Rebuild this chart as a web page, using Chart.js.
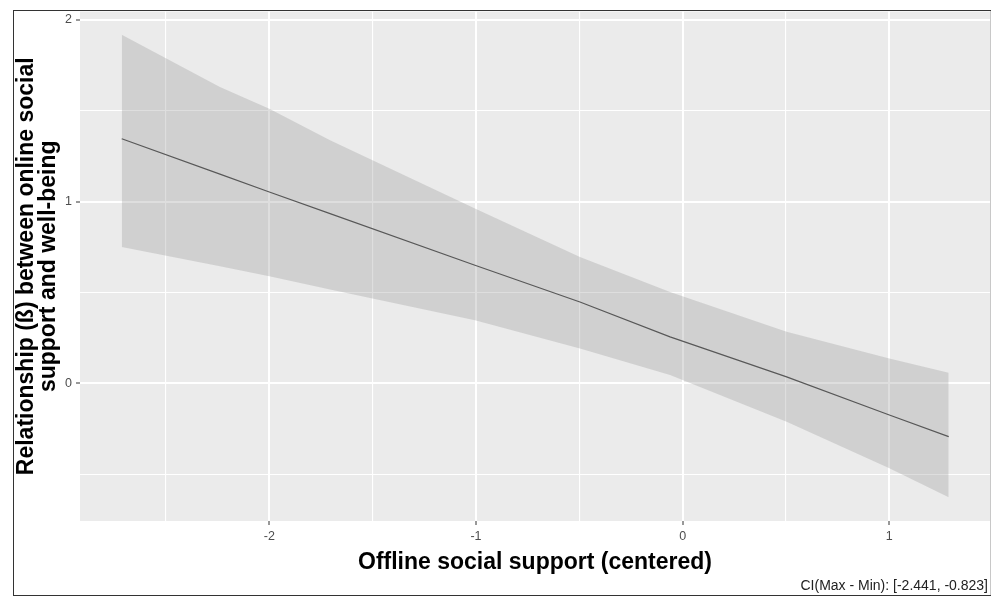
<!DOCTYPE html>
<html><head><meta charset="utf-8">
<script src="https://cdn.jsdelivr.net/npm/chart.js@4/dist/chart.umd.min.js"></script>
<style>html,body{margin:0;padding:0;background:#fff;overflow:hidden}#wrap{width:1003px;height:596px;position:relative}</style>
</head><body><div id="wrap"><canvas id="c" width="1003" height="596"></canvas></div>
<script>
// Data
const xValues     = [-2.714, -2.239, -2.0, -1.706, -1.005, -0.497, -0.061, 0.503, 1.0, 1.287];
const fitValues   = [1.346, 1.151, 1.053, 0.934, 0.650, 0.448, 0.256, 0.036, -0.174, -0.293];
const upperValues = [1.918, 1.630, 1.511, 1.337, 0.962, 0.696, 0.503, 0.284, 0.137, 0.058];
const lowerValues = [0.751, 0.645, 0.590, 0.516, 0.348, 0.192, 0.046, -0.211, -0.467, -0.626];
const xTicks = [-2.5, -2, -1.5, -1, -0.5, 0, 0.5, 1];
const yTicks = [-0.5, 0, 0.5, 1, 1.5, 2];
const xRange = [-2.916, 1.487];
const yRange = [-0.757, 2.046];
const xTitle = 'Offline social support (centered)';
const yTitle = ['Relationship (ß) between online social', 'support and well-being'];
const caption = 'CI(Max - Min): [-2.441, -0.823]';

const toPts = ys => xValues.map((x, i) => ({x: x, y: ys[i]}));
const FONT = "'Liberation Sans', Arial, sans-serif";
const isMajor = v => Math.abs(v - Math.round(v)) < 1e-9;

const ggPlugin = {
  id: 'gg',
  beforeDraw(chart) {
    const {ctx, chartArea: a} = chart;
    ctx.save();
    ctx.fillStyle = '#EBEBEB';
    ctx.fillRect(a.left, a.top, a.right - a.left, a.bottom - a.top);
    ctx.restore();
  },
  afterDraw(chart) {
    const ctx = chart.ctx;
    ctx.save();
    ctx.lineWidth = 1;
    ctx.strokeStyle = '#333';
    ctx.beginPath();
    ctx.moveTo(13, 10.5); ctx.lineTo(991, 10.5);
    ctx.moveTo(13.5, 10); ctx.lineTo(13.5, 596);
    ctx.moveTo(13, 595.5); ctx.lineTo(991, 595.5);
    ctx.stroke();
    ctx.strokeStyle = '#c8c8c8';
    ctx.beginPath();
    ctx.moveTo(990.5, 11); ctx.lineTo(990.5, 595);
    ctx.stroke();
    ctx.fillStyle = '#222';
    ctx.font = '14px ' + FONT;
    ctx.textAlign = 'right';
    ctx.textBaseline = 'middle';
    ctx.fillText(caption, 988, 586);
    ctx.restore();
  }
};

const gridOpts = {
  color: '#FFFFFF',
  lineWidth: c => (c.tick && isMajor(c.tick.value)) ? 2 : 1.1,
  drawTicks: true,
  tickLength: 4,
  tickWidth: 1,
  tickColor: c => (c.tick && isMajor(c.tick.value)) ? '#333333' : 'rgba(0,0,0,0)'
};
const tickOpts = {
  color: '#4D4D4D',
  font: {family: FONT, size: 12.5},
  padding: 4,
  autoSkip: false,
  maxRotation: 0,
  callback: v => isMajor(v) ? String(Math.round(v)) : ''
};

new Chart(document.getElementById('c'), {
  type: 'line',
  data: {
    datasets: [
      {data: toPts(upperValues), fill: '+1', backgroundColor: 'rgba(153,153,153,0.32)', borderWidth: 0, borderColor: 'rgba(0,0,0,0)', pointRadius: 0, tension: 0},
      {data: toPts(lowerValues), fill: false, borderWidth: 0, borderColor: 'rgba(0,0,0,0)', pointRadius: 0, tension: 0},
      {data: toPts(fitValues), fill: false, borderWidth: 1.2, borderColor: '#3a3a3a', pointRadius: 0, tension: 0}
    ]
  },
  options: {
    responsive: false,
    animation: false,
    devicePixelRatio: 1,
    layout: {padding: {left: 13, top: 11, right: 13, bottom: 1}},
    plugins: {legend: {display: false}, tooltip: {enabled: false}},
    scales: {
      x: {
        type: 'linear', min: xRange[0], max: xRange[1],
        afterBuildTicks: s => { s.ticks = xTicks.map(v => ({value: v})); },
        afterFit: s => { s.height = 74; },
        grid: gridOpts, border: {display: false}, ticks: tickOpts,
        title: {display: true, text: xTitle, color: '#000',
          font: {family: FONT, size: 23, weight: 'bold', lineHeight: 1.2},
          padding: {top: 0, bottom: 19}}
      },
      y: {
        type: 'linear', min: yRange[0], max: yRange[1],
        afterBuildTicks: s => { s.ticks = yTicks.map(v => ({value: v})); },
        afterFit: s => { s.width = 67; },
        grid: gridOpts, border: {display: false}, ticks: tickOpts,
        title: {display: true, text: yTitle, color: '#000',
          font: {family: FONT, size: 23, weight: 'bold', lineHeight: 0.98},
          padding: {top: 2, bottom: 0}}
      }
    }
  },
  plugins: [ggPlugin]
});
</script></body></html>
